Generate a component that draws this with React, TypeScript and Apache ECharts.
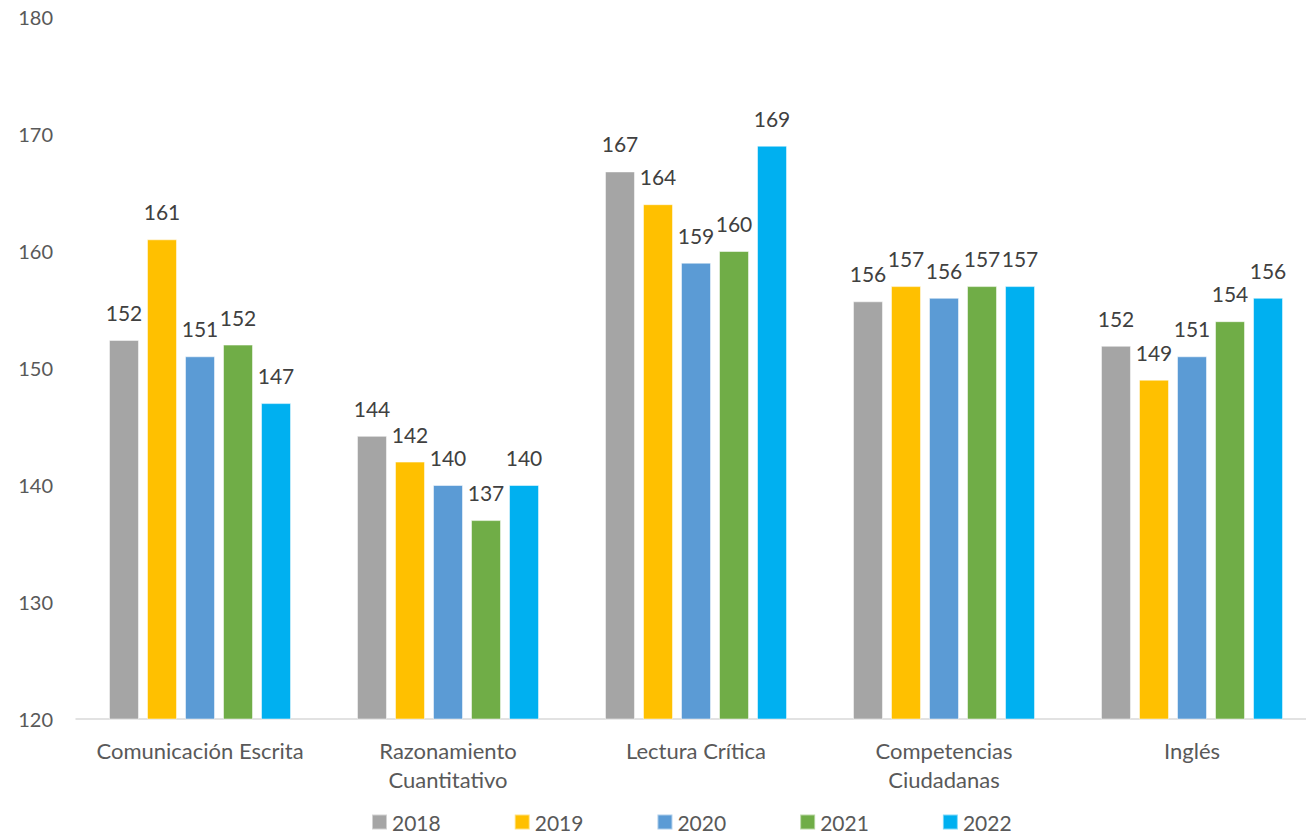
import React, { useEffect, useRef } from "react";
import * as echarts from "echarts";

const categories = [
  "Comunicación Escrita",
  "Razonamiento\nCuantitativo",
  "Lectura Crítica",
  "Competencias\nCiudadanas",
  "Inglés",
];
const years = ["2018", "2019", "2020", "2021", "2022"];
const values2018 = [152.4, 144.2, 166.8, 155.7, 151.9];
const values2019 = [161, 142, 164, 157, 149];
const values2020 = [151, 140, 159, 156, 151];
const values2021 = [152, 137, 160, 157, 154];
const values2022 = [147, 140, 169, 157, 156];
const yTicks = { min: 120, max: 180, interval: 10 };

const colors = ["#a5a5a5", "#ffc000", "#5b9bd5", "#70ad47", "#00b0f0"];
const allValues = [values2018, values2019, values2020, values2021, values2022];

const FONT = "Lato, 'Open Sans', sans-serif";

export default function App() {
  const ref = useRef<HTMLDivElement>(null);
  useEffect(() => {
    if (!ref.current) return;
    const chart = echarts.init(ref.current, undefined, { renderer: "svg" });
    chart.setOption({
      animation: false,
      backgroundColor: "#ffffff",
      textStyle: { fontFamily: FONT },
      grid: { left: 76, top: 17, right: 0, bottom: 116, containLabel: false },
      legend: {
        data: years,
        left: 371,
        top: 810,
        padding: 0,
        itemWidth: 15,
        itemHeight: 15,
        itemGap: 73,
        icon: "rect",
        textStyle: { fontFamily: FONT, fontSize: 21, lineHeight: 24, color: "#595959" },
      },
      xAxis: {
        type: "category",
        data: categories,
        axisTick: { show: false },
        axisLine: { lineStyle: { color: "#d9d9d9", width: 1.5 } },
        axisLabel: {
          margin: 17,
          fontFamily: FONT,
          fontSize: 22,
          lineHeight: 29,
          color: "#595959",
          interval: 0,
        },
      },
      yAxis: {
        type: "value",
        min: yTicks.min,
        max: yTicks.max,
        interval: yTicks.interval,
        splitLine: { show: false },
        axisLine: { show: false },
        axisTick: { show: false },
        axisLabel: {
          margin: 23,
          fontFamily: FONT,
          fontSize: 20,
          color: "#595959",
        },
      },
      series: years.map((y, i) => ({
        name: y,
        type: "bar",
        data: allValues[i],
        barWidth: 30,
        barGap: "26.7%",
        itemStyle: { color: colors[i], borderColor: "rgba(255,255,255,0.5)", borderWidth: 1 },
        label: {
          show: true,
          position: "top",
          distance: 17,
          fontFamily: FONT,
          fontSize: 21,
          color: "#404040",
          formatter: (p: any) => String(Math.round(p.value)),
        },
      })),
    });
    return () => chart.dispose();
  }, []);
  return (
    <div style={{ position: "absolute", left: 0, top: 0, width: 1306, height: 835, overflow: "hidden" }}>
      <div ref={ref} style={{ width: 1316, height: 835 }} />
    </div>
  );
}
